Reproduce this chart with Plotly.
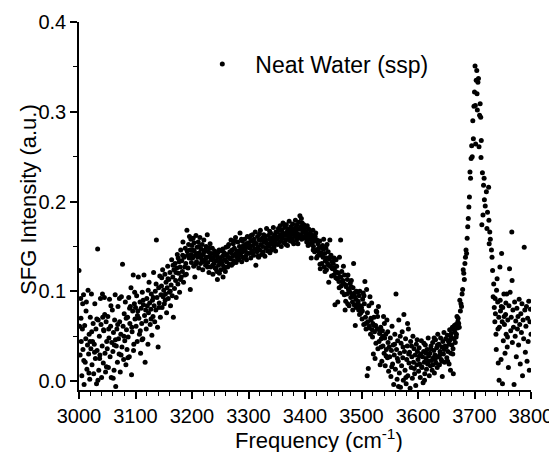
import plotly.graph_objects as go

# SFG spectrum of neat water (ssp) in 50 cm-1 chunks.
freq_3000 = [3000, 3001, 3002, 3003, 3004, 3005, 3006, 3007, 3008, 3009, 3010, 3011, 3012, 3013, 3014, 3015, 3016,
             3017, 3018, 3019, 3020, 3021, 3022, 3023, 3024, 3025, 3026, 3027, 3028, 3029, 3030, 3031, 3032, 3033,
             3034, 3035, 3036, 3037, 3038, 3039, 3040, 3041, 3042, 3043, 3044, 3045, 3046, 3047, 3048, 3049,
             3003.5, 3008.5, 3012.5, 3017.5, 3022.5, 3027.5, 3031.5, 3036.5, 3041.5, 3045.5, 3048.5, 3006.5,
             3019.5, 3033.5, 3043.5]
int_3000 = [0.123, 0.061, 0.029, 0.092, 0.044, 0.006, 0.058, 0.035, 0.096, -0.004, 0.062, 0.021, 0.047, 0.088, 0.013,
            0.040, 0.101, 0.030, 0.052, 0.002, 0.071, 0.036, 0.097, 0.018, 0.044, 0.064, 0.008, 0.041, 0.086, 0.025,
            0.058, -0.003, 0.034, 0.147, 0.068, 0.012, 0.050, 0.029, 0.092, 0.063, 0.004, 0.039, 0.071, 0.020, 0.056,
            0.093, 0.031, 0.010, 0.066, 0.044,
            0.070, 0.023, 0.078, 0.009, 0.055, 0.032, 0.069, 0.025, 0.097, 0.074, 0.016, 0.086, 0.044, 0.001, 0.057]

freq_3050 = [3050, 3051, 3052, 3053, 3054, 3055, 3056, 3057, 3058, 3059, 3060, 3061, 3062, 3063, 3064, 3065, 3066,
             3067, 3068, 3069, 3070, 3071, 3072, 3073, 3074, 3075, 3076, 3077, 3078, 3079, 3080, 3081, 3082, 3083,
             3084, 3085, 3086, 3087, 3088, 3089, 3090, 3091, 3092, 3093, 3094, 3095, 3096, 3097, 3098, 3099,
             3052.5, 3056.5, 3060.5, 3064.5, 3068.5, 3071.5, 3074.5, 3079.5, 3083.5, 3086.5, 3089.5, 3093.5,
             3096.5, 3098.5, 3062.5]
int_3050 = [0.036, 0.072, 0.015, 0.048, 0.091, 0.027, 0.061, 0.004, 0.043, 0.079, 0.033, 0.054, 0.012, 0.068, 0.096,
            -0.006, 0.039, 0.058, 0.021, 0.083, 0.047, 0.030, 0.066, 0.010, 0.052, 0.094, 0.038, 0.130, 0.061, 0.024,
            0.075, 0.045, 0.088, 0.018, 0.057, 0.035, 0.071, 0.049, 0.093, 0.027, 0.064, 0.083, 0.104, 0.007, 0.055,
            0.078, 0.118, 0.041, 0.086, 0.069,
            0.058, 0.084, 0.003, 0.046, 0.063, 0.092, 0.029, 0.050, 0.070, 0.026, 0.081, 0.060, 0.034, 0.099, 0.040]

freq_3100 = [3100, 3101, 3102, 3103, 3104, 3105, 3106, 3107, 3108, 3109, 3110, 3111, 3112, 3113, 3114, 3115, 3116,
             3117, 3118, 3119, 3120, 3121, 3122, 3123, 3124, 3125, 3126, 3127, 3128, 3129, 3130, 3131, 3132, 3133,
             3134, 3135, 3136, 3137, 3138, 3139, 3140, 3141, 3142, 3143, 3144, 3145, 3146, 3147, 3148, 3149,
             3103.5, 3108.5, 3113.5, 3118.5, 3122.5, 3127.5, 3131.5, 3136.5, 3141.5, 3146.5, 3111.5]
int_3100 = [0.082, 0.061, 0.095, 0.044, 0.078, 0.116, 0.070, 0.052, 0.088, 0.031, 0.081, 0.064, 0.099, 0.047, 0.085,
            0.118, 0.073, 0.021, 0.079, 0.058, 0.092, 0.084, 0.041, 0.076, 0.110, 0.087, 0.063, 0.080, 0.097, 0.051,
            0.090, 0.072, 0.121, 0.084, 0.066, 0.100, 0.079, 0.157, 0.093, 0.060, 0.038, 0.104, 0.087, 0.117, 0.071,
            0.096, 0.106, 0.082, 0.124, 0.094,
            0.073, 0.056, 0.090, 0.067, 0.101, 0.069, 0.093, 0.108, 0.082, 0.115, 0.046]

freq_3150 = [3150, 3151, 3152, 3153, 3154, 3155, 3156, 3157, 3158, 3159, 3160, 3161, 3162, 3163, 3164, 3165, 3166,
             3167, 3168, 3169, 3170, 3171, 3172, 3173, 3174, 3175, 3176, 3177, 3178, 3179, 3180, 3181, 3182, 3183,
             3184, 3185, 3186, 3187, 3188, 3189, 3190, 3191, 3192, 3193, 3194, 3195, 3196, 3197, 3198, 3199,
             3152.5, 3157.5, 3161.5, 3166.5, 3171.5, 3175.5, 3179.5, 3183.5, 3187.5, 3191.5, 3195.5, 3198.5]
int_3150 = [0.101, 0.086, 0.119, 0.097, 0.110, 0.076, 0.104, 0.128, 0.092, 0.113, 0.099, 0.121, 0.084, 0.107, 0.135,
            0.095, 0.116, 0.071, 0.124, 0.103, 0.131, 0.112, 0.093, 0.126, 0.141, 0.108, 0.120, 0.133, 0.099, 0.127,
            0.146, 0.116, 0.134, 0.122, 0.155, 0.110, 0.138, 0.127, 0.148, 0.131, 0.119, 0.168, 0.140, 0.126, 0.152,
            0.137, 0.146, 0.102, 0.158, 0.132,
            0.090, 0.114, 0.100, 0.129, 0.121, 0.137, 0.113, 0.140, 0.118, 0.145, 0.161, 0.141]

freq_3200 = [3200, 3201, 3202, 3203, 3204, 3205, 3206, 3207, 3208, 3209, 3210, 3211, 3212, 3213, 3214, 3215, 3216,
             3217, 3218, 3219, 3220, 3221, 3222, 3223, 3224, 3225, 3226, 3227, 3228, 3229, 3230, 3231, 3232, 3233,
             3234, 3235, 3236, 3237, 3238, 3239, 3240, 3241, 3242, 3243, 3244, 3245, 3246, 3247, 3248, 3249,
             3201.5, 3203.5, 3206.5, 3209.5, 3212.5, 3215.5, 3218.5, 3221.5, 3224.5, 3227.5, 3230.5, 3233.5,
             3236.5, 3239.5, 3242.5, 3245.5, 3248.5]
int_3200 = [0.151, 0.137, 0.159, 0.128, 0.145, 0.116, 0.140, 0.162, 0.133, 0.149, 0.138, 0.155, 0.126, 0.143, 0.160,
            0.131, 0.147, 0.136, 0.152, 0.124, 0.141, 0.157, 0.134, 0.146, 0.129, 0.150, 0.138, 0.163, 0.132, 0.144,
            0.121, 0.139, 0.153, 0.127, 0.142, 0.135, 0.148, 0.119, 0.137, 0.131, 0.145, 0.126, 0.140, 0.134, 0.122,
            0.113, 0.138, 0.129, 0.146, 0.133,
            0.146, 0.154, 0.130, 0.142, 0.150, 0.139, 0.133, 0.144, 0.137, 0.127, 0.148, 0.136, 0.129, 0.141, 0.125,
            0.143, 0.120]

freq_3250 = [3250, 3251, 3252, 3253, 3254, 3255, 3256, 3257, 3258, 3259, 3260, 3261, 3262, 3263, 3264, 3265, 3266,
             3267, 3268, 3269, 3270, 3271, 3272, 3273, 3274, 3275, 3276, 3277, 3278, 3279, 3280, 3281, 3282, 3283,
             3284, 3285, 3286, 3287, 3288, 3289, 3290, 3291, 3292, 3293, 3294, 3295, 3296, 3297, 3298, 3299,
             3251.5, 3254.5, 3257.5, 3260.5, 3263.5, 3266.5, 3269.5, 3272.5, 3275.5, 3278.5, 3281.5, 3284.5,
             3287.5, 3290.5, 3293.5, 3296.5, 3298.5]
int_3250 = [0.137, 0.124, 0.145, 0.131, 0.139, 0.116, 0.128, 0.143, 0.135, 0.122, 0.149, 0.133, 0.141, 0.127, 0.138,
            0.152, 0.130, 0.144, 0.136, 0.157, 0.129, 0.146, 0.139, 0.153, 0.134, 0.148, 0.141, 0.160, 0.132, 0.145,
            0.138, 0.155, 0.143, 0.136, 0.150, 0.165, 0.140, 0.147, 0.133, 0.156, 0.144, 0.151, 0.137, 0.158, 0.146,
            0.139, 0.153, 0.143, 0.161, 0.149,
            0.134, 0.147, 0.126, 0.140, 0.150, 0.137, 0.143, 0.131, 0.156, 0.142, 0.135, 0.145, 0.158, 0.138, 0.149,
            0.135, 0.152]

freq_3300 = [3300, 3301, 3302, 3303, 3304, 3305, 3306, 3307, 3308, 3309, 3310, 3311, 3312, 3313, 3314, 3315, 3316,
             3317, 3318, 3319, 3320, 3321, 3322, 3323, 3324, 3325, 3326, 3327, 3328, 3329, 3330, 3331, 3332, 3333,
             3334, 3335, 3336, 3337, 3338, 3339, 3340, 3341, 3342, 3343, 3344, 3345, 3346, 3347, 3348, 3349,
             3301.5, 3304.5, 3307.5, 3310.5, 3313.5, 3316.5, 3319.5, 3322.5, 3325.5, 3328.5, 3331.5, 3334.5,
             3337.5, 3340.5, 3343.5, 3346.5, 3348.5]
int_3300 = [0.154, 0.142, 0.160, 0.148, 0.137, 0.156, 0.145, 0.163, 0.151, 0.140, 0.158, 0.147, 0.166, 0.129, 0.153,
            0.144, 0.161, 0.149, 0.138, 0.157, 0.146, 0.168, 0.152, 0.141, 0.159, 0.150, 0.144, 0.163, 0.155, 0.139,
            0.157, 0.148, 0.170, 0.153, 0.145, 0.162, 0.151, 0.158, 0.143, 0.165, 0.154, 0.147, 0.160, 0.152, 0.171,
            0.149, 0.163, 0.156, 0.145, 0.161,
            0.151, 0.162, 0.143, 0.155, 0.147, 0.139, 0.164, 0.157, 0.142, 0.160, 0.154, 0.150, 0.167, 0.146, 0.158,
            0.152, 0.166]

freq_3350 = [3350, 3351, 3352, 3353, 3354, 3355, 3356, 3357, 3358, 3359, 3360, 3361, 3362, 3363, 3364, 3365, 3366,
             3367, 3368, 3369, 3370, 3371, 3372, 3373, 3374, 3375, 3376, 3377, 3378, 3379, 3380, 3381, 3382, 3383,
             3384, 3385, 3386, 3387, 3388, 3389, 3390, 3391, 3392, 3393, 3394, 3395, 3396, 3397, 3398, 3399,
             3351.5, 3354.5, 3357.5, 3360.5, 3363.5, 3366.5, 3369.5, 3372.5, 3375.5, 3378.5, 3381.5, 3384.5,
             3387.5, 3390.5, 3393.5, 3396.5, 3398.5]
int_3350 = [0.158, 0.166, 0.152, 0.170, 0.161, 0.155, 0.173, 0.163, 0.150, 0.168, 0.159, 0.176, 0.164, 0.154, 0.171,
            0.162, 0.157, 0.174, 0.166, 0.151, 0.169, 0.160, 0.178, 0.165, 0.156, 0.172, 0.163, 0.158, 0.175, 0.167,
            0.153, 0.170, 0.161, 0.179, 0.168, 0.157, 0.174, 0.164, 0.160, 0.177, 0.169, 0.184, 0.163, 0.172, 0.158,
            0.176, 0.166, 0.161, 0.174, 0.168,
            0.160, 0.168, 0.156, 0.165, 0.174, 0.152, 0.163, 0.158, 0.167, 0.155, 0.164, 0.172, 0.153, 0.160, 0.181,
            0.170, 0.159]

freq_3400 = [3400, 3401, 3402, 3403, 3404, 3405, 3406, 3407, 3408, 3409, 3410, 3411, 3412, 3413, 3414, 3415, 3416,
             3417, 3418, 3419, 3420, 3421, 3422, 3423, 3424, 3425, 3426, 3427, 3428, 3429, 3430, 3431, 3432, 3433,
             3434, 3435, 3436, 3437, 3438, 3439, 3440, 3441, 3442, 3443, 3444, 3445, 3446, 3447, 3448, 3449,
             3402.5, 3405.5, 3408.5, 3411.5, 3414.5, 3417.5, 3420.5, 3423.5, 3426.5, 3429.5, 3432.5, 3435.5,
             3438.5, 3441.5, 3444.5, 3447.5]
int_3400 = [0.171, 0.160, 0.166, 0.155, 0.173, 0.162, 0.158, 0.169, 0.152, 0.165, 0.159, 0.137, 0.163, 0.154, 0.168,
            0.150, 0.158, 0.144, 0.161, 0.165, 0.146, 0.157, 0.139, 0.153, 0.148, 0.141, 0.156, 0.125, 0.149, 0.143,
            0.131, 0.151, 0.138, 0.158, 0.127, 0.142, 0.134, 0.148, 0.124, 0.152, 0.131, 0.144, 0.110, 0.136, 0.157,
            0.128, 0.140, 0.117, 0.133, 0.125,
            0.163, 0.151, 0.160, 0.155, 0.146, 0.156, 0.137, 0.145, 0.130, 0.140, 0.147, 0.122, 0.137, 0.129, 0.138,
            0.126]

freq_3450 = [3450, 3451, 3452, 3453, 3454, 3455, 3456, 3457, 3458, 3459, 3460, 3461, 3462, 3463, 3464, 3465, 3466,
             3467, 3468, 3469, 3470, 3471, 3472, 3473, 3474, 3475, 3476, 3477, 3478, 3479, 3480, 3481, 3482, 3483,
             3484, 3485, 3486, 3487, 3488, 3489, 3490, 3491, 3492, 3493, 3494, 3495, 3496, 3497, 3498, 3499,
             3451.5, 3454.5, 3457.5, 3460.5, 3463.5, 3466.5, 3469.5, 3472.5, 3475.5, 3478.5, 3481.5, 3484.5,
             3487.5, 3490.5, 3493.5, 3496.5]
int_3450 = [0.131, 0.118, 0.126, 0.085, 0.122, 0.135, 0.128, 0.114, 0.088, 0.120, 0.111, 0.138, 0.116, 0.157, 0.106,
            0.122, 0.099, 0.112, 0.128, 0.108, 0.118, 0.079, 0.089, 0.105, 0.097, 0.113, 0.118, 0.102, 0.084, 0.099,
            0.109, 0.093, 0.112, 0.097, 0.088, 0.104, 0.131, 0.085, 0.094, 0.062, 0.091, 0.100, 0.083, 0.099, 0.089,
            0.079, 0.095, 0.100, 0.084, 0.076,
            0.137, 0.115, 0.121, 0.104, 0.116, 0.110, 0.096, 0.107, 0.086, 0.100, 0.105, 0.079, 0.098, 0.082, 0.087,
            0.074]

freq_3500 = [3500, 3501, 3502, 3503, 3504, 3505, 3506, 3507, 3508, 3509, 3510, 3511, 3512, 3513, 3514, 3515, 3516,
             3517, 3518, 3519, 3520, 3521, 3522, 3523, 3524, 3525, 3526, 3527, 3528, 3529, 3530, 3531, 3532, 3533,
             3534, 3535, 3536, 3537, 3538, 3539, 3540, 3541, 3542, 3543, 3544, 3545, 3546, 3547, 3548, 3549,
             3501.5, 3504.5, 3507.5, 3510.5, 3513.5, 3516.5, 3519.5, 3522.5, 3525.5, 3528.5, 3531.5, 3534.5,
             3537.5, 3540.5, 3543.5, 3546.5]
int_3500 = [0.082, 0.069, 0.091, 0.098, 0.063, 0.086, 0.111, 0.071, 0.058, 0.102, 0.006, 0.066, 0.014, 0.084, 0.061,
            0.094, 0.052, 0.068, 0.087, 0.057, 0.064, 0.030, 0.071, 0.055, 0.025, 0.062, 0.078, 0.077, 0.058, 0.036,
            0.083, 0.044, 0.053, 0.018, 0.060, 0.047, 0.022, 0.056, 0.039, 0.072, 0.031, 0.048, 0.017, 0.052, 0.035,
            0.068, 0.026, 0.043, 0.011, 0.038,
            0.078, 0.095, 0.064, 0.076, 0.059, 0.070, 0.049, 0.062, 0.042, 0.072, 0.057, 0.038, 0.050, 0.064, 0.028,
            0.055]

freq_3550 = [3550, 3551, 3552, 3553, 3554, 3555, 3556, 3557, 3558, 3559, 3560, 3561, 3562, 3563, 3564, 3565, 3566,
             3567, 3568, 3569, 3570, 3571, 3572, 3573, 3574, 3575, 3576, 3577, 3578, 3579, 3580, 3581, 3582, 3583,
             3584, 3585, 3586, 3587, 3588, 3589, 3590, 3591, 3592, 3593, 3594, 3595, 3596, 3597, 3598, 3599,
             3553.5, 3558.5, 3563.5, 3568.5, 3573.5, 3578.5, 3583.5, 3588.5, 3593.5, 3598.5, 3565.5, 3581.5]
int_3550 = [0.027, 0.048, 0.005, 0.034, 0.061, 0.019, 0.040, -0.004, 0.029, 0.052, 0.013, 0.097, 0.035, 0.002, 0.045,
            0.022, 0.068, 0.009, 0.031, -0.007, 0.042, 0.017, 0.055, 0.026, 0.001, 0.074, 0.033, 0.012, 0.047, -0.003,
            0.024, 0.039, 0.006, 0.058, 0.020, 0.032, -0.008, 0.044, 0.015, 0.027, 0.003, 0.050, 0.021, 0.036, 0.008,
            0.029, -0.005, 0.041, 0.018, 0.033,
            0.016, 0.041, 0.025, 0.050, 0.038, 0.004, 0.030, 0.039, 0.014, 0.046, -0.006, 0.064]

freq_3600 = [3600, 3601, 3602, 3603, 3604, 3605, 3606, 3607, 3608, 3609, 3610, 3611, 3612, 3613, 3614, 3615, 3616,
             3617, 3618, 3619, 3620, 3621, 3622, 3623, 3624, 3625, 3626, 3627, 3628, 3629, 3630, 3631, 3632, 3633,
             3634, 3635, 3636, 3637, 3638, 3639, 3640, 3641, 3642, 3643, 3644, 3645, 3646, 3647, 3648, 3649,
             3602.5, 3606.5, 3610.5, 3614.5, 3618.5, 3622.5, 3626.5, 3630.5, 3634.5, 3638.5, 3642.5, 3646.5,
             3611.5, 3628.5]
int_3600 = [0.024, 0.011, 0.037, 0.019, 0.004, 0.030, 0.045, 0.015, 0.027, -0.002, 0.033, 0.021, 0.008, 0.040, 0.025,
            0.013, 0.035, 0.019, 0.048, 0.028, 0.006, 0.031, 0.017, 0.039, 0.023, 0.012, 0.043, 0.026, 0.034, 0.009,
            0.029, 0.046, 0.020, 0.037, 0.015, 0.052, 0.027, 0.041, 0.018, 0.033, 0.048, 0.024, 0.038, 0.005, 0.044,
            0.030, 0.054, 0.021, 0.039, 0.047,
            0.028, 0.016, 0.042, 0.031, 0.022, 0.036, 0.018, 0.024, 0.040, 0.029, 0.022, 0.035, 0.001, 0.048]

freq_3650 = [3650, 3651, 3652, 3653, 3654, 3655, 3656, 3657, 3658, 3659, 3660, 3661, 3662, 3663, 3664, 3665, 3666,
             3667, 3668, 3669, 3670, 3671, 3672, 3673, 3674, 3675, 3676, 3677, 3678, 3679, 3680, 3681, 3682, 3683,
             3684, 3685, 3686, 3687, 3688, 3689, 3690, 3691, 3692, 3693, 3694, 3695, 3696, 3697, 3698, 3699,
             3652.5, 3655.5, 3658.5, 3661.5, 3664.5, 3667.5, 3670.5, 3657.5, 3662.5]
int_3650 = [0.038, 0.026, 0.051, 0.033, 0.044, 0.019, 0.057, 0.046, 0.031, 0.053, 0.040, 0.060, 0.036, 0.058, 0.047,
            0.055, 0.043, 0.063, 0.052, 0.072, 0.059, 0.070, 0.064, 0.060, 0.090, 0.078, 0.086, 0.083, 0.097, 0.102,
            0.124, 0.120, 0.113, 0.131, 0.138, 0.146, 0.142, 0.159, 0.172, 0.181, 0.194, 0.205, 0.233, 0.226, 0.248,
            0.262, 0.250, 0.290, 0.270, 0.306,
            0.022, 0.041, 0.049, 0.030, 0.062, 0.049, 0.066, 0.012, 0.008]

freq_3700 = [3700, 3701, 3701.5, 3702, 3703, 3704, 3704.5, 3705, 3706, 3707, 3708, 3709, 3710, 3711, 3711.5, 3712,
             3713, 3714, 3715, 3716, 3717, 3717.5, 3719, 3721, 3722, 3723, 3725, 3725.5, 3726, 3727, 3728, 3730,
             3731, 3732, 3733, 3734, 3735, 3736, 3737, 3738, 3739, 3740, 3741, 3742, 3743, 3744, 3745, 3745.5,
             3746, 3747, 3748, 3749,
             3738.5, 3741.5, 3743.5, 3749.5, 3736.5, 3747.5]
int_3700 = [0.322, 0.351, 0.307, 0.264, 0.335, 0.346, 0.320, 0.302, 0.333, 0.337, 0.261, 0.296, 0.309, 0.294, 0.249,
            0.268, 0.174, 0.232, 0.185, 0.218, 0.226, 0.202, 0.195, 0.211, 0.170, 0.188, 0.216, 0.179, 0.153, 0.166,
            0.158, 0.146, 0.138, 0.123, 0.094, 0.108, 0.082, 0.066, 0.075, 0.052, 0.101, 0.114, 0.088, 0.020, 0.071,
            0.060, 0.127, 0.090, 0.078, 0.024, 0.142, 0.066,
            0.035, 0.058, 0.001, -0.003, 0.092, 0.083]

freq_3750 = [3750, 3751, 3752, 3753, 3754, 3755, 3756, 3757, 3758, 3759, 3760, 3761, 3762, 3763, 3764, 3765, 3766,
             3766.5, 3767, 3768, 3769, 3770, 3771, 3772, 3773, 3774, 3775, 3776, 3777, 3778, 3779, 3780, 3781, 3782,
             3783, 3784, 3785, 3786, 3787, 3788, 3789, 3790, 3791, 3792, 3793, 3794, 3795, 3796, 3797, 3798, 3799,
             3800, 3752.5, 3755.5, 3758.5]
int_3750 = [0.082, 0.045, 0.097, 0.063, 0.031, 0.074, 0.052, 0.097, 0.038, 0.068, 0.015, 0.084, 0.125, 0.099, 0.056,
            0.071, 0.166, 0.112, 0.043, 0.079, 0.060, -0.004, 0.088, 0.050, 0.067, 0.027, 0.081, 0.058, 0.072, 0.040,
            0.091, 0.063, 0.019, 0.075, 0.054, 0.086, 0.006, 0.068, 0.047, 0.149, 0.079, 0.032, 0.061, 0.083, 0.022,
            0.070, 0.044, 0.089, 0.012, 0.066, 0.080, 0.052, 0.072, 0.087, 0.049]

FREQ_CHUNKS = [freq_3000, freq_3050, freq_3100, freq_3150, freq_3200, freq_3250, freq_3300, freq_3350,
               freq_3400, freq_3450, freq_3500, freq_3550, freq_3600, freq_3650, freq_3700, freq_3750]
INT_CHUNKS = [int_3000, int_3050, int_3100, int_3150, int_3200, int_3250, int_3300, int_3350,
              int_3400, int_3450, int_3500, int_3550, int_3600, int_3650, int_3700, int_3750]

x_ticks = [3000, 3100, 3200, 3300, 3400, 3500, 3600, 3700, 3800]
y_ticks = [0.0, 0.1, 0.2, 0.3, 0.4]

FONT = "Arial, Liberation Sans, sans-serif"

freq = [f for chunk in FREQ_CHUNKS for f in chunk]
intensity = [v for chunk in INT_CHUNKS for v in chunk]

fig = go.Figure()
fig.add_trace(go.Scatter(
    x=freq, y=intensity,
    mode="markers",
    marker=dict(size=5, color="black", line=dict(width=0)),
    name="Neat Water (ssp)",
    showlegend=True,
))

axis_common = dict(
    showline=True, linecolor="black", linewidth=1.5,
    ticks="outside", tickwidth=1.5, tickcolor="black", ticklen=7,
    showgrid=False, zeroline=False, mirror=False, automargin=False,
    tickfont=dict(family=FONT, size=20, color="black"),
)

# the page body keeps its default 8px margin, so the figure is 8px smaller
# than the window and the margins are shifted by the same amount
fig.update_layout(
    width=549, height=444,
    margin=dict(l=71, r=26, t=14, b=62),
    plot_bgcolor="white", paper_bgcolor="white",
    font=dict(family=FONT, color="black"),
    xaxis=dict(
        range=[3000, 3800], tickvals=x_ticks,
        minor=dict(dtick=20, ticks="outside", ticklen=4, tickwidth=1.2, tickcolor="black"),
        **axis_common,
    ),
    yaxis=dict(
        range=[-0.01, 0.4], tickvals=y_ticks, tickformat=".1f",
        minor=dict(dtick=0.05, tick0=0, ticks="outside", ticklen=4, tickwidth=1.2, tickcolor="black"),
        **axis_common,
    ),
    legend=dict(
        x=0.244, y=0.886, xanchor="left", yanchor="middle",
        itemwidth=56, font=dict(family=FONT, size=23),
        bgcolor="rgba(0,0,0,0)",
    ),
)

# axis titles as annotations so they sit exactly where the original puts them
fig.add_annotation(
    text="Frequency (cm<sup>-1</sup>)", xref="paper", yref="paper",
    x=0.531, y=-0.132, xanchor="center", yanchor="middle",
    showarrow=False, font=dict(family=FONT, size=22, color="black"),
)
fig.add_annotation(
    text="SFG Intensity (a.u.)", xref="paper", yref="paper",
    x=-0.113, y=0.519, xanchor="center", yanchor="middle", textangle=-90,
    showarrow=False, font=dict(family=FONT, size=22, color="black"),
)

fig.write_html("out.html")
